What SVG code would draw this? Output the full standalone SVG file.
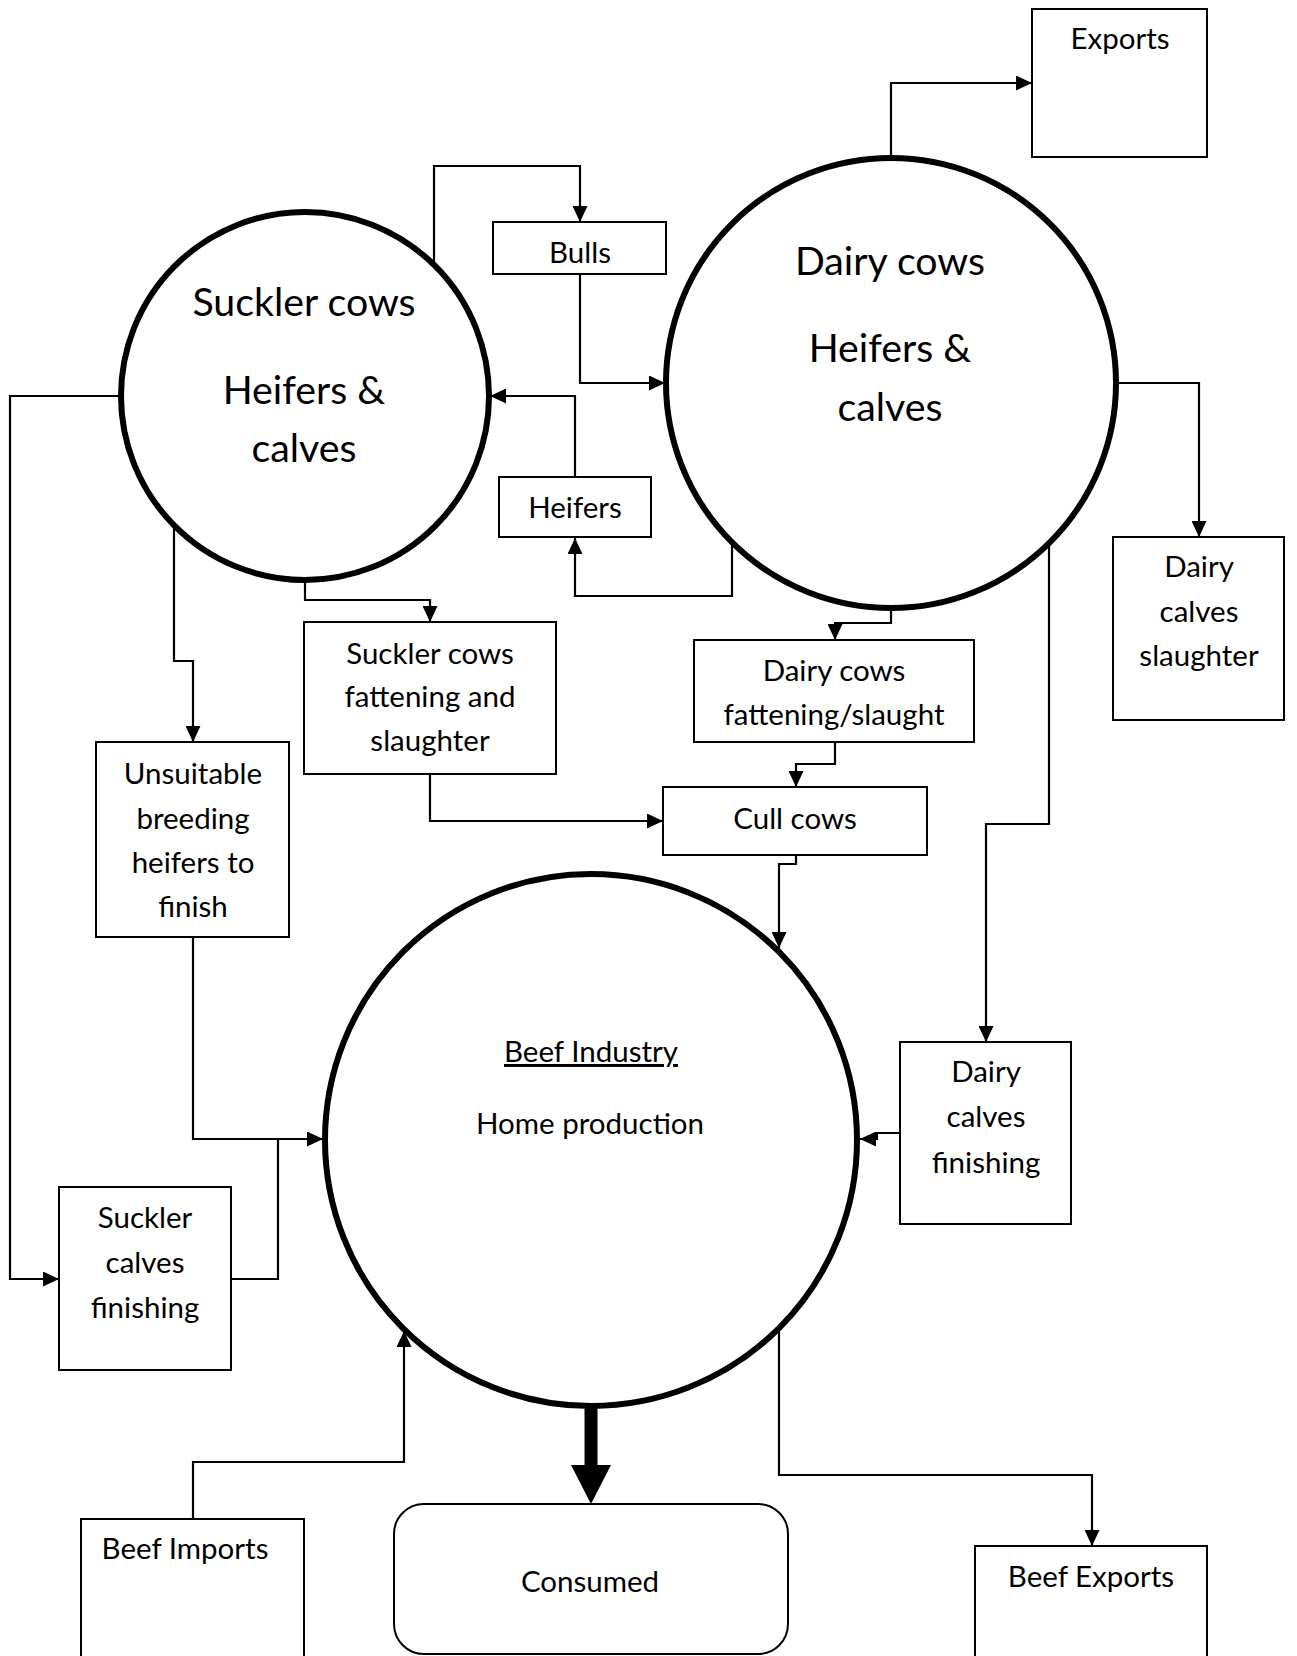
<svg xmlns="http://www.w3.org/2000/svg" width="1297" height="1656" viewBox="0 0 1297 1656">
<style>
.bg{fill:#fff}
.box{fill:#fff;stroke:#000;stroke-width:2}
.circ{fill:#fff;stroke:#000;stroke-width:6}
.ln{fill:none;stroke:#000;stroke-width:2.2}
.t{font-family:Lato,"Open Sans","Liberation Sans",sans-serif;font-size:29.5px;fill:#000;text-anchor:middle}
.big{font-size:39.3px}
</style>
<defs>
<marker id="ah" markerUnits="userSpaceOnUse" markerWidth="16" markerHeight="15" refX="16" refY="7.5" orient="auto">
<path d="M0,0 L16,7.5 L0,15 Z" fill="#000"/>
</marker>
</defs>
<rect class="bg" x="0" y="0" width="1297" height="1656"/>

<g id="connectors">
<path class="ln" d="M891,158 V83 H1032" marker-end="url(#ah)"/>
<path class="ln" d="M434,265 V166 H580 V222" marker-end="url(#ah)"/>
<path class="ln" d="M580,274 V383 H665" marker-end="url(#ah)"/>
<path class="ln" d="M575,477 V396 H490" marker-end="url(#ah)"/>
<path class="ln" d="M732,542 V596 H575 V538" marker-end="url(#ah)"/>
<path class="ln" d="M120,396 H10 V1279 H59" marker-end="url(#ah)"/>
<path class="ln" d="M174,527 V661 H193 V742" marker-end="url(#ah)"/>
<path class="ln" d="M305,580 V600 H430 V622" marker-end="url(#ah)"/>
<path class="ln" d="M891,608 V623 H835 V640" marker-end="url(#ah)"/>
<path class="ln" d="M835,742 V764 H796 V787" marker-end="url(#ah)"/>
<path class="ln" d="M430,774 V821 H663" marker-end="url(#ah)"/>
<path class="ln" d="M796,855 V864 H779 V948" marker-end="url(#ah)"/>
<path class="ln" d="M1049,543 V824 H986 V1042" marker-end="url(#ah)"/>
<path class="ln" d="M1116,383 H1199 V537" marker-end="url(#ah)"/>
<path class="ln" d="M900,1133 H877 V1139 H860" marker-end="url(#ah)"/>
<path class="ln" d="M193,937 V1139 H323" marker-end="url(#ah)"/>
<path class="ln" d="M231,1279 H278 V1139"/>
<path class="ln" d="M193,1519 V1462 H404 V1331" marker-end="url(#ah)"/>
<path class="ln" d="M779,1328 V1475 H1092 V1546" marker-end="url(#ah)"/>
<path d="M591,1408 V1466" stroke="#000" stroke-width="13" fill="none"/>
<path d="M571,1465 L611,1465 L591,1504 Z" fill="#000"/>
</g>

<g id="exports">
<rect class="box" x="1032" y="9" width="175" height="148"/>
<text class="t" x="1120" y="49">Exports</text>
</g>

<g id="suckler-cows">
<circle class="circ" cx="305" cy="396" r="184"/>
<text class="t big" x="304" y="316">Suckler cows</text>
<text class="t big" x="304" y="404">Heifers &amp;</text>
<text class="t big" x="304" y="462">calves</text>
</g>

<g id="dairy-cows">
<circle class="circ" cx="891" cy="383" r="225"/>
<text class="t big" x="890" y="275">Dairy cows</text>
<text class="t big" x="890" y="362">Heifers &amp;</text>
<text class="t big" x="890" y="421">calves</text>
</g>

<g id="bulls">
<rect class="box" x="493" y="222" width="173" height="52"/>
<text class="t" x="580" y="263">Bulls</text>
</g>

<g id="heifers">
<rect class="box" x="499" y="477" width="152" height="60"/>
<text class="t" x="575" y="518">Heifers</text>
</g>

<g id="suckler-fattening">
<rect class="box" x="304" y="622" width="252" height="152"/>
<text class="t" x="430" y="664">Suckler cows</text>
<text class="t" x="430" y="707">fattening and</text>
<text class="t" x="430" y="751">slaughter</text>
</g>

<g id="unsuitable">
<rect class="box" x="96" y="742" width="193" height="195"/>
<text class="t" x="193" y="784">Unsuitable</text>
<text class="t" x="193" y="829">breeding</text>
<text class="t" x="193" y="873">heifers to</text>
<text class="t" x="193" y="917">finish</text>
</g>

<g id="dairy-fattening">
<rect class="box" x="694" y="640" width="280" height="102"/>
<text class="t" x="834" y="681">Dairy cows</text>
<text class="t" x="834" y="725">fattening/slaught</text>
</g>

<g id="cull-cows">
<rect class="box" x="663" y="787" width="264" height="68"/>
<text class="t" x="795" y="829">Cull cows</text>
</g>

<g id="dairy-calves-slaughter">
<rect class="box" x="1113" y="537" width="171" height="183"/>
<text class="t" x="1199" y="577">Dairy</text>
<text class="t" x="1199" y="622">calves</text>
<text class="t" x="1199" y="666">slaughter</text>
</g>

<g id="dairy-calves-finishing">
<rect class="box" x="900" y="1042" width="171" height="182"/>
<text class="t" x="986" y="1082">Dairy</text>
<text class="t" x="986" y="1127">calves</text>
<text class="t" x="986" y="1173">finishing</text>
</g>

<g id="suckler-calves-finishing">
<rect class="box" x="59" y="1187" width="172" height="183"/>
<text class="t" x="145" y="1228">Suckler</text>
<text class="t" x="145" y="1273">calves</text>
<text class="t" x="145" y="1318">finishing</text>
</g>

<g id="beef-industry">
<circle class="circ" cx="591" cy="1140" r="266"/>
<text class="t" x="591" y="1062" text-decoration="underline">Beef Industry</text>
<text class="t" x="590" y="1134">Home production</text>
</g>

<g id="beef-imports">
<rect class="box" x="81" y="1519" width="223" height="150"/>
<text class="t" x="185" y="1559">Beef Imports</text>
</g>

<g id="consumed">
<rect class="box" x="394" y="1504" width="394" height="150" rx="30" ry="30"/>
<text class="t" x="590" y="1592">Consumed</text>
</g>

<g id="beef-exports">
<rect class="box" x="975" y="1546" width="232" height="130"/>
<text class="t" x="1091" y="1587">Beef Exports</text>
</g>
</svg>
